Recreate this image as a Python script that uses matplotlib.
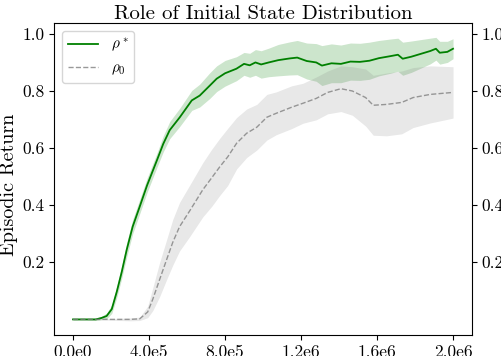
import numpy as np
import matplotlib
matplotlib.use("Agg")
import matplotlib.pyplot as plt

plt.rcParams['font.family'] = 'serif'
plt.rcParams['font.serif'] = ['cmr10', 'DejaVu Serif']
plt.rcParams['mathtext.fontset'] = 'cm'
plt.rcParams['axes.formatter.use_mathtext'] = True

title = "Role of Initial State Distribution"
ylabel = "Episodic Return"
labels = [r"$\rho^*$", r"$\rho_0$"]

# rho* (green) : timesteps in units of 1e5
g_t = [0, 0.5, 1.0, 1.2, 1.5, 1.77, 2.04, 2.3, 2.56, 2.83, 3.14, 3.51, 3.9, 4.42, 4.75,
       5.09, 5.62, 6.25, 6.67, 7.2, 7.56, 8.0, 8.6, 9.0, 9.3, 9.6, 9.9, 10.3, 10.8,
       11.4, 11.8, 12.3, 12.8, 13.1, 13.6, 14.1, 14.6, 15.1, 15.6, 16.1, 16.7, 17.1,
       17.35, 17.8, 18.3, 18.8, 19.1, 19.3, 19.7, 20.0]
g_mean = [0.0, 0.0, 0.0, 0.0, 0.005, 0.012, 0.036, 0.096, 0.165, 0.245, 0.325, 0.395,
          0.47, 0.558, 0.615, 0.663, 0.708, 0.767, 0.784, 0.819, 0.843, 0.862, 0.878,
          0.895, 0.89, 0.9, 0.893, 0.9, 0.908, 0.914, 0.917, 0.905, 0.9, 0.889, 0.897,
          0.895, 0.903, 0.902, 0.906, 0.915, 0.922, 0.927, 0.913, 0.92, 0.93, 0.94,
          0.948, 0.934, 0.937, 0.948]
g_hw = [0.002, 0.002, 0.003, 0.004, 0.006, 0.01, 0.015, 0.02, 0.022, 0.025, 0.025,
        0.025, 0.025, 0.025, 0.028, 0.03, 0.032, 0.035, 0.04, 0.045, 0.045, 0.045,
        0.042, 0.04, 0.042, 0.045, 0.048, 0.05, 0.055, 0.058, 0.06, 0.063, 0.066,
        0.07, 0.068, 0.066, 0.065, 0.065, 0.065, 0.062, 0.06, 0.058, 0.058, 0.055,
        0.05, 0.045, 0.04, 0.04, 0.037, 0.035]

# rho_0 (gray)
r_t = [0, 0.5, 1.0, 1.5, 2.0, 2.5, 3.0, 3.51, 3.93, 4.2, 4.56, 4.93, 5.25, 5.61, 6.14,
       6.83, 7.3, 7.72, 8.14, 8.61, 9.14, 9.67, 10.2, 10.7, 11.5, 12.1, 12.8, 13.4,
       14.1, 14.7, 15.4, 15.8, 16.5, 17.3, 17.9, 18.8, 20.0]
r_mean = [0.0, 0.0, 0.0, 0.0, 0.0, 0.0, 0.0, 0.002, 0.026, 0.071, 0.14, 0.21, 0.27,
          0.325, 0.38, 0.454, 0.496, 0.534, 0.569, 0.617, 0.652, 0.673, 0.708, 0.722,
          0.743, 0.757, 0.774, 0.795, 0.808, 0.80, 0.777, 0.75, 0.753, 0.76, 0.777,
          0.788, 0.795]
r_hw = [0.002, 0.002, 0.002, 0.002, 0.003, 0.004, 0.005, 0.006, 0.02, 0.04, 0.06,
        0.07, 0.08, 0.085, 0.09, 0.095, 0.1, 0.1, 0.1, 0.09, 0.085, 0.08, 0.08, 0.075,
        0.075, 0.07, 0.075, 0.075, 0.08, 0.085, 0.1, 0.105, 0.11, 0.11, 0.105, 0.1,
        0.09]

xticks = [0, 4e5, 8e5, 1.2e6, 1.6e6, 2.0e6]
xticklabels = ["0.0e0", "4.0e5", "8.0e5", "1.2e6", "1.6e6", "2.0e6"]
yticks = [0.2, 0.4, 0.6, 0.8, 1.0]
yticklabels = ["0.2", "0.4", "0.6", "0.8", "1.0"]

fig = plt.figure(figsize=(5.02, 3.56), dpi=100)
ax = fig.add_axes([0.1076, 0.059, 0.8327, 0.876])

gx = np.array(g_t) * 1e5
gm = np.array(g_mean)
gh = np.array(g_hw)
rx = np.array(r_t) * 1e5
rm = np.array(r_mean)
rh = np.array(r_hw)

ax.plot(gx, gm, color='green', lw=1.3, label=labels[0])
ax.fill_between(gx, gm - gh, gm + gh, color='green', alpha=0.2, lw=0)
ax.plot(rx, rm, color='gray', lw=1.0, ls='--', alpha=0.8, label=labels[1])
ax.fill_between(rx, rm - rh, rm + rh, color='gray', alpha=0.18, lw=0)

ax.set_xticks(xticks)
ax.set_xticklabels(xticklabels)
ax.set_yticks(yticks)
ax.set_yticklabels(yticklabels)
ax.tick_params(axis='y', right=True, labelright=True, labelsize=12.5)
ax.tick_params(axis='x', labelsize=12.5)
ax.set_title(title, fontsize=15, pad=3)
ax.set_ylabel(ylabel, fontsize=14.5)
ax.yaxis.set_label_coords(-0.086, 0.48)
ax.legend(loc='upper left', fontsize=11, handlelength=2.0)

fig.savefig("out.png", dpi=100)
